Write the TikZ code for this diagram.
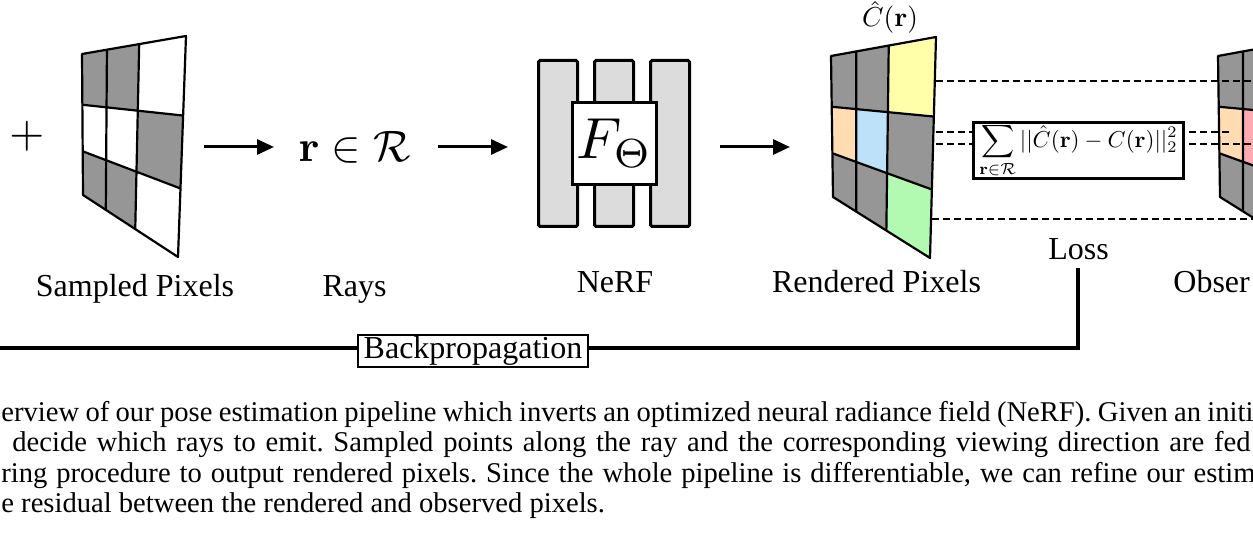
\documentclass[tikz,border=0pt]{standalone}
\usepackage{graphicx}
\usepackage[no-math]{fontspec}
\setmainfont{Liberation Serif}
\usetikzlibrary{arrows.meta,calc}
\definecolor{pixgray}{RGB}{150,150,150}
\definecolor{nerfgray}{RGB}{220,220,220}
\definecolor{cyel}{RGB}{255,255,170}
\definecolor{cpeach}{RGB}{255,220,178}
\definecolor{cblue}{RGB}{190,225,250}
\definecolor{cgreen}{RGB}{178,250,178}
\definecolor{cpink}{RGB}{255,170,178}
\newcommand\mkgrid[5]{%
  \coordinate (#1A) at #2; \coordinate (#1B) at #3;
  \coordinate (#1C) at #4; \coordinate (#1D) at #5;
  \foreach \j/\v in {0/0,1/0.36,2/0.69,3/1}{%
    \coordinate (#1L\j) at ($(#1A)!\v!(#1D)$);
    \coordinate (#1R\j) at ($(#1B)!\v!(#1C)$);
    \foreach \i/\u in {0/0,1/0.24,2/0.55,3/1}{%
      \coordinate (#1-\i-\j) at ($(#1L\j)!\u!(#1R\j)$);
    }%
  }%
}
\newcommand\gridlines[1]{%
  \draw[gridline] (#1-0-0) -- (#1-3-0) -- (#1-3-3) -- (#1-0-3) -- cycle;
  \draw[gridline] (#1-1-0) -- (#1-1-3) (#1-2-0) -- (#1-2-3)
                  (#1-0-1) -- (#1-3-1) (#1-0-2) -- (#1-3-2);
}
\begin{document}
\frenchspacing
\begin{tikzpicture}[x=0.5pt,y=-0.5pt,
  lbl/.style={inner sep=0pt,anchor=base,font=\fontsize{16}{19}\selectfont},
  captxt/.style={inner sep=0pt,anchor=base west,font=\fontsize{14.3}{17}\selectfont},
  arr/.style={line width=1.5pt,-{Triangle[length=8.5pt,width=7.5pt]}},
  gridline/.style={line width=1.1pt,line join=round},
  dashln/.style={line width=1.25pt,dash pattern=on 3.3pt off 2.2pt},
  nerfbar/.style={draw,line width=1.5pt,fill=nerfgray,rounded corners=0.8pt,minimum width=19.5pt,minimum height=83pt,inner sep=0pt},
  fbox/.style={draw,line width=1.5pt,fill=white,minimum width=42pt,minimum height=41pt,inner sep=0pt},
  lossbox/.style={draw,line width=1.35pt,fill=white,minimum width=105pt,minimum height=28pt,inner sep=0pt},
  bpbox/.style={draw,line width=0.6pt,fill=white,minimum width=115pt,minimum height=16pt,inner sep=0pt,font=\fontsize{16}{19}\selectfont},
  bpline/.style={line width=1.8pt}
]
\useasboundingbox (0,0) rectangle (1253,533);
\clip (0,0) rectangle (1253,533);
\fill[white] (0,0) rectangle (1253,533);

% plus sign
\node[inner sep=0pt] (plus) at (27,136) {\scalebox{2.25}{$+$}};

% sampled pixels grid
\mkgrid{s}{(82,54)}{(186,36)}{(178,257)}{(83,195)}
\foreach \i/\j/\ii/\jj/\c in {0/0/1/1/pixgray,1/0/2/1/pixgray,2/1/3/2/pixgray,0/2/1/3/pixgray,1/2/2/3/pixgray}
  {\fill[\c] (s-\i-\j) -- (s-\ii-\j) -- (s-\ii-\jj) -- (s-\i-\jj) -- cycle;}
\gridlines{s}

% rendered pixels grid
\mkgrid{p}{(831,56)}{(936,37)}{(930,258)}{(833,197)}
\foreach \i/\j/\ii/\jj/\c in {0/0/1/1/pixgray,1/0/2/1/pixgray,2/0/3/1/cyel,0/1/1/2/cpeach,1/1/2/2/cblue,2/1/3/2/pixgray,0/2/1/3/pixgray,1/2/2/3/pixgray,2/2/3/3/cgreen}
  {\fill[\c] (p-\i-\j) -- (p-\ii-\j) -- (p-\ii-\jj) -- (p-\i-\jj) -- cycle;}
\gridlines{p}

% observed pixels grid
\mkgrid{o}{(1218,56)}{(1322,37)}{(1316,257)}{(1220,197)}
\foreach \i/\j/\ii/\jj/\c in {0/0/1/1/pixgray,1/0/2/1/pixgray,0/1/1/2/cpeach,1/1/2/2/cpink,0/2/1/3/pixgray,1/2/2/3/pixgray}
  {\fill[\c] (o-\i-\j) -- (o-\ii-\j) -- (o-\ii-\jj) -- (o-\i-\jj) -- cycle;}
\gridlines{o}

% NeRF block
\node[nerfbar] (bar1) at (558,143.5) {};
\node[nerfbar] (bar2) at (614,143.5) {};
\node[nerfbar] (bar3) at (670,143.5) {};
\node[fbox] (fnet) at (614.5,143.5) {\scalebox{2.9}{$F_{\Theta}$}};

% rays
\node[inner sep=0pt,anchor=base] (rays) at (354.5,162) {\scalebox{2.2}{$\mathbf{r}\in\mathcal{R}$}};

% arrows
\coordinate (a1s) at (204,147); \coordinate (a1e) at (274,147);
\coordinate (a2s) at (438,147); \coordinate (a2e) at (508,147);
\coordinate (a3s) at (720,147); \coordinate (a3e) at (790,147);
\draw[arr] (a1s) -- (a1e);
\draw[arr] (a2s) -- (a2e);
\draw[arr] (a3s) -- (a3e);

% C hat label
\node[inner sep=0pt,anchor=base] (chat) at (890,27) {\scalebox{1.37}{$\hat{C}(\mathbf{r})$}};

% dashed correspondences
\coordinate (d1a) at (936,81);  \coordinate (d1b) at (1262,81);
\coordinate (d2a) at (936,132); \coordinate (d2b) at (1232,132);
\coordinate (d3a) at (936,144); \coordinate (d3b) at (1262,144);
\coordinate (d4a) at (932,219); \coordinate (d4b) at (1262,219);
\draw[dashln] (d1a) -- (d1b);
\draw[dashln] (d2a) -- (d2b);
\draw[dashln] (d3a) -- (d3b);
\draw[dashln] (d4a) -- (d4b);

% loss box
\node[lossbox] (loss) at (1078.5,150.5)
  {\scalebox{1.15}{$\displaystyle\sum_{\mathbf{r}\in\mathcal{R}} ||\hat{C}(\mathbf{r})-C(\mathbf{r})||_2^2$}};

% labels
\node[lbl] (lsampled) at (135,297) {Sampled Pixels};
\node[lbl] (lrays) at (354.5,297) {Rays};
\node[lbl] (lnerf) at (615,293) {NeRF};
\node[lbl] (lrendered) at (876.5,293) {Rendered Pixels};
\node[lbl] (lloss) at (1078.5,260) {Loss};
\node[lbl,anchor=base west] (lobs) at (1173,293) {Obser};

% backpropagation
\coordinate (bpL) at (-10,348);
\coordinate (bpR) at (1078,348);
\coordinate (bpT) at (1078,268);
\draw[bpline] (bpL) -- (bpR) -- (bpT);
\node[bpbox] (bp) at (473,351) {Backpropagation};

% caption
\node[captxt] (cap1) at (1,422) {\makebox[626pt][s]{erview of our pose estimation pipeline which inverts an optimized neural radiance field (NeRF). Given an initi}};
\node[captxt] (cap2) at (12,452) {\makebox[619pt][s]{decide which rays to emit. Sampled points along the ray and the corresponding viewing direction are fed}};
\node[captxt] (cap3) at (1,483) {\makebox[627pt][s]{ring procedure to output rendered pixels. Since the whole pipeline is differentiable, we can refine our estim}};
\node[captxt] (cap4) at (1,513) {e residual between the rendered and observed pixels.};
\end{tikzpicture}
\end{document}
